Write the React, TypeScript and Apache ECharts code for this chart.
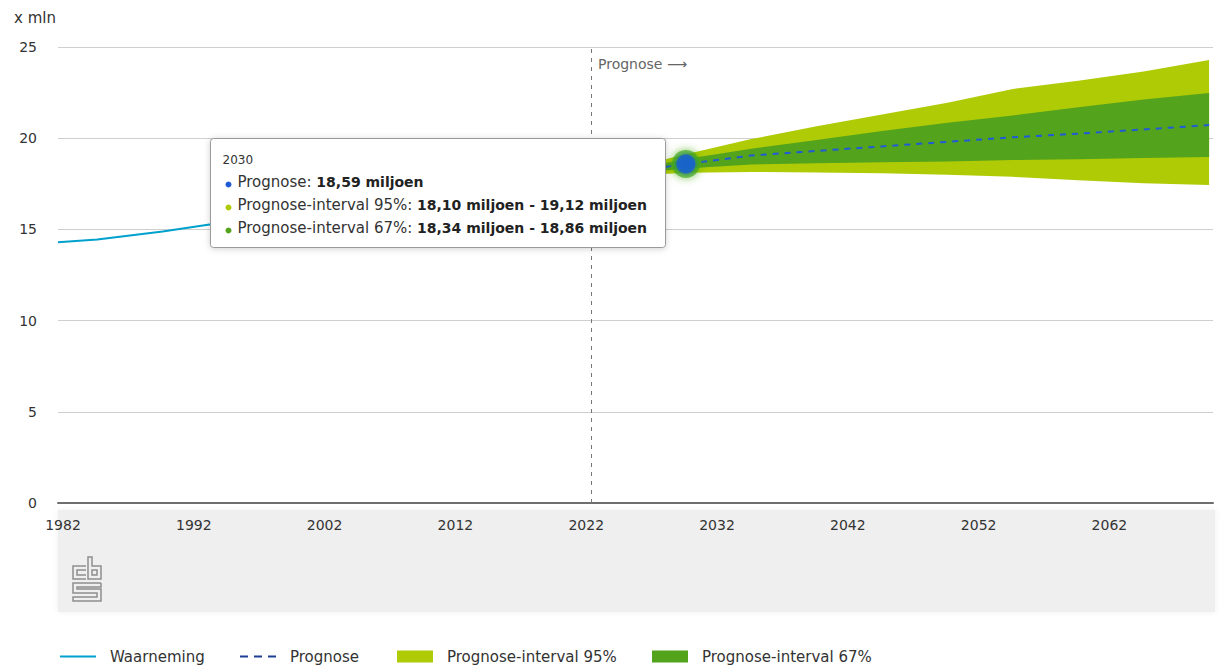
import React, { useEffect, useRef } from "react";
import * as echarts from "echarts";

const obsYears = [1982, 1985, 1990, 1995, 2000, 2005, 2010, 2015, 2020, 2023];
const obsValues = [14.29, 14.45, 14.89, 15.42, 15.86, 16.31, 16.57, 16.9, 17.41, 17.81];

const progYears = [2023, 2025, 2030, 2035, 2040, 2045, 2050, 2055, 2060, 2065, 2070];
const progMedian = [17.81, 18.05, 18.59, 19.05, 19.3, 19.55, 19.8, 20.05, 20.25, 20.48, 20.72];
const lo95 = [17.81, 17.9, 18.1, 18.15, 18.12, 18.08, 18.0, 17.88, 17.7, 17.53, 17.43];
const hi95 = [17.81, 18.25, 19.12, 19.95, 20.65, 21.3, 21.95, 22.7, 23.15, 23.65, 24.29];
const lo67 = [17.81, 17.98, 18.34, 18.56, 18.62, 18.68, 18.72, 18.8, 18.85, 18.92, 18.97];
const hi67 = [17.81, 18.15, 18.86, 19.42, 19.9, 20.4, 20.85, 21.25, 21.7, 22.12, 22.48];

const yTicks = [0, 5, 10, 15, 20, 25];
const xTickStart = 1982;
const xTickStep = 10;
const xMax = 2070.3;
const prognoseStart = 2022.8;
const tipYear = 2030;

const legendNames = ["Waarneming", "Prognose", "Prognose-interval 95%", "Prognose-interval 67%"];

const C_OBS = "#00a1cd";
const C_PROG = "#1f5bd6";
const C_PROG_LEG = "#1f3f95";
const C_95 = "#afcb05";
const C_67 = "#53a31d";
const FONT = "'DejaVu Sans', sans-serif";

const fmt = (v: number) => v.toFixed(2).replace(".", ",") + " miljoen";

export default function App() {
  const ref = useRef<HTMLDivElement>(null);
  useEffect(() => {
    if (!ref.current) return;
    const chart = echarts.init(ref.current, undefined, { renderer: "svg" });
    const ti = progYears.indexOf(tipYear);

    const band = (name: string, lo: number[], hi: number[], color: string, z: number) => ({
      type: "custom",
      name,
      silent: true,
      z,
      itemStyle: { color },
      encode: { x: 0, y: [1, 2] },
      data: progYears.map((x, i) => [x, lo[i], hi[i]]),
      renderItem: (params: any, api: any) => {
        if (params.dataIndex !== 0) return null;
        const upper = progYears.map((x, i) => api.coord([x, hi[i]]));
        const lower = progYears.map((x, i) => api.coord([x, lo[i]])).reverse();
        return {
          type: "polygon",
          shape: { points: upper.concat(lower) },
          style: { fill: color, stroke: null },
        };
      },
    });

    const tipRows = [
      { color: C_PROG, label: "Prognose: ", value: fmt(progMedian[ti]) },
      { color: C_95, label: "Prognose-interval 95%: ", value: fmt(lo95[ti]) + " - " + fmt(hi95[ti]) },
      { color: C_67, label: "Prognose-interval 67%: ", value: fmt(lo67[ti]) + " - " + fmt(hi67[ti]) },
    ];
    const TZ = 100;

    const legendIcons = [
      { icon: "path://M0,0H36V2H0Z", color: C_OBS },
      { icon: "path://M0,0H8V2H0Z M14,0H22V2H14Z M28,0H36V2H28Z", color: C_PROG_LEG },
      { icon: "rect", color: C_95 },
      { icon: "rect", color: C_67 },
    ];
    const legendLefts = [60, 240, 397, 652];

    const option: any = {
      animation: false,
      textStyle: { fontFamily: FONT },
      grid: { left: 58, right: 13, top: 47, bottom: 163, containLabel: false },
      xAxis: {
        type: "value",
        min: xTickStart,
        max: xMax,
        interval: xTickStep,
        axisLine: { show: true, lineStyle: { color: "#6e6e6e", width: 2 } },
        axisTick: { show: false },
        splitLine: { show: false },
        axisLabel: {
          showMaxLabel: false,
          color: "#333",
          fontSize: 14,
          fontFamily: FONT,
          margin: 15,
          padding: [0, 0, 0, 10],
          formatter: (v: number) => String(v),
        },
      },
      yAxis: {
        type: "value",
        min: 0,
        max: 25,
        interval: 5,
        axisLine: { show: false },
        axisTick: { show: false },
        splitLine: { lineStyle: { color: "#cfcfcf", width: 1 } },
        axisLabel: {
          color: "#333",
          fontSize: 14,
          fontFamily: FONT,
          margin: 21,
          formatter: (v: number) => (yTicks.includes(v) ? String(v) : ""),
        },
      },
      legend: legendNames.map((name, i) => ({
        left: legendLefts[i],
        top: 649,
        padding: 0,
        itemWidth: 36,
        itemHeight: 12,
        selectedMode: false,
        textStyle: { fontSize: 15, color: "#333", fontFamily: FONT, padding: [0, 0, 0, 9] },
        data: [{ name, icon: legendIcons[i].icon, itemStyle: { color: legendIcons[i].color } }],
      })),
      graphic: [
        {
          type: "rect",
          z: -10,
          silent: true,
          shape: { x: 58, y: 510, width: 1157, height: 102 },
          style: { fill: "#efefef", shadowBlur: 6, shadowColor: "#efefef" },
        },
        {
          type: "text",
          left: 14,
          top: 10,
          style: { text: "x mln", fill: "#333", fontSize: 15, fontFamily: FONT },
        },
        {
          type: "text",
          left: 598,
          top: 57,
          style: { text: "Prognose \u27f6", fill: "#666", fontSize: 14, fontFamily: FONT },
        },
        {
          type: "group",
          silent: true,
          children: [
            { type: "polyline", shape: { points: [[86, 566], [73, 566], [73, 579], [86, 579]] }, style: { stroke: "#8f8f8f", lineWidth: 1.5, fill: "none" } },
            { type: "polyline", shape: { points: [[86, 570], [77, 570], [77, 575], [86, 575]] }, style: { stroke: "#8f8f8f", lineWidth: 1.5, fill: "none" } },
            { type: "polygon", shape: { points: [[88, 557], [92, 557], [92, 566], [101, 566], [101, 579], [88, 579]] }, style: { stroke: "#8f8f8f", lineWidth: 1.5, fill: "none" } },
            { type: "rect", shape: { x: 92, y: 570, width: 5, height: 5 }, style: { stroke: "#8f8f8f", lineWidth: 1.5, fill: "none" } },
            { type: "polyline", shape: { points: [[101, 583], [73, 583], [73, 593], [97, 593], [97, 597], [73, 597], [73, 601], [101, 601], [101, 589], [77, 589], [77, 587], [101, 587], [101, 583]] }, style: { stroke: "#8f8f8f", lineWidth: 1.5, fill: "none" } },
          ],
        },
        {
          type: "group",
          left: 210,
          top: 138,
          z: TZ,
          children: [
            {
              type: "rect",
              z: TZ,
              shape: { x: 0, y: 0, width: 455, height: 109, r: 3 },
              style: { fill: "#fff", stroke: "#9a9a9a", lineWidth: 1, shadowBlur: 6, shadowColor: "rgba(0,0,0,0.18)", shadowOffsetY: 1 },
            },
            { type: "text", z: TZ + 1, x: 12, y: 15, style: { text: String(tipYear), fill: "#333", fontSize: 12, fontFamily: FONT } },
            ...tipRows.flatMap((r, i) => [
              { type: "circle", z: TZ + 1, shape: { cx: 18, cy: 46 + i * 23, r: 3 }, style: { fill: r.color } },
              {
                type: "text",
                z: TZ + 1,
                x: 27,
                y: 36 + i * 23,
                style: {
                  text: "{a|" + r.label + "}{b|" + r.value + "}",
                  rich: {
                    a: { fontSize: 15, fill: "#333", fontFamily: FONT },
                    b: { fontSize: 14, fill: "#222", fontWeight: "bold", fontFamily: FONT },
                  },
                },
              },
            ]),
          ],
        },
      ],
      series: [
        {
          name: "Waarneming",
          type: "line",
          symbol: "none",
          color: C_OBS,
          lineStyle: { color: C_OBS, width: 2 },
          data: obsYears.map((x, i) => [x, obsValues[i]]),
          z: 5,
          markLine: {
            silent: true,
            symbol: "none",
            label: { show: false },
            lineStyle: { color: "#777", type: [4, 5], width: 1 },
            data: [{ xAxis: prognoseStart }],
          },
        },
        band("Prognose-interval 95%", lo95, hi95, C_95, 2),
        band("Prognose-interval 67%", lo67, hi67, C_67, 3),
        {
          name: "Prognose",
          type: "line",
          symbol: "none",
          color: C_PROG,
          lineStyle: { color: C_PROG, width: 2, type: [6, 6] },
          data: progYears.map((x, i) => [x, progMedian[i]]),
          z: 6,
        },
        {
          type: "scatter",
          silent: true,
          z: 7,
          data: [[tipYear, progMedian[ti]]],
          symbolSize: 28,
          itemStyle: { color: "rgba(70,170,20,0.85)", shadowBlur: 8, shadowColor: "#46aa14" },
        },
        {
          type: "scatter",
          silent: true,
          z: 8,
          data: [[tipYear, progMedian[ti]]],
          symbolSize: 19,
          itemStyle: { color: "#1460cf", shadowBlur: 4, shadowColor: "#1460cf" },
        },
      ],
    };
    chart.setOption(option);
    return () => chart.dispose();
  }, []);
  return <div ref={ref} style={{ width: 1226, height: 666, position: "absolute", left: 0, top: 0 }} />;
}
